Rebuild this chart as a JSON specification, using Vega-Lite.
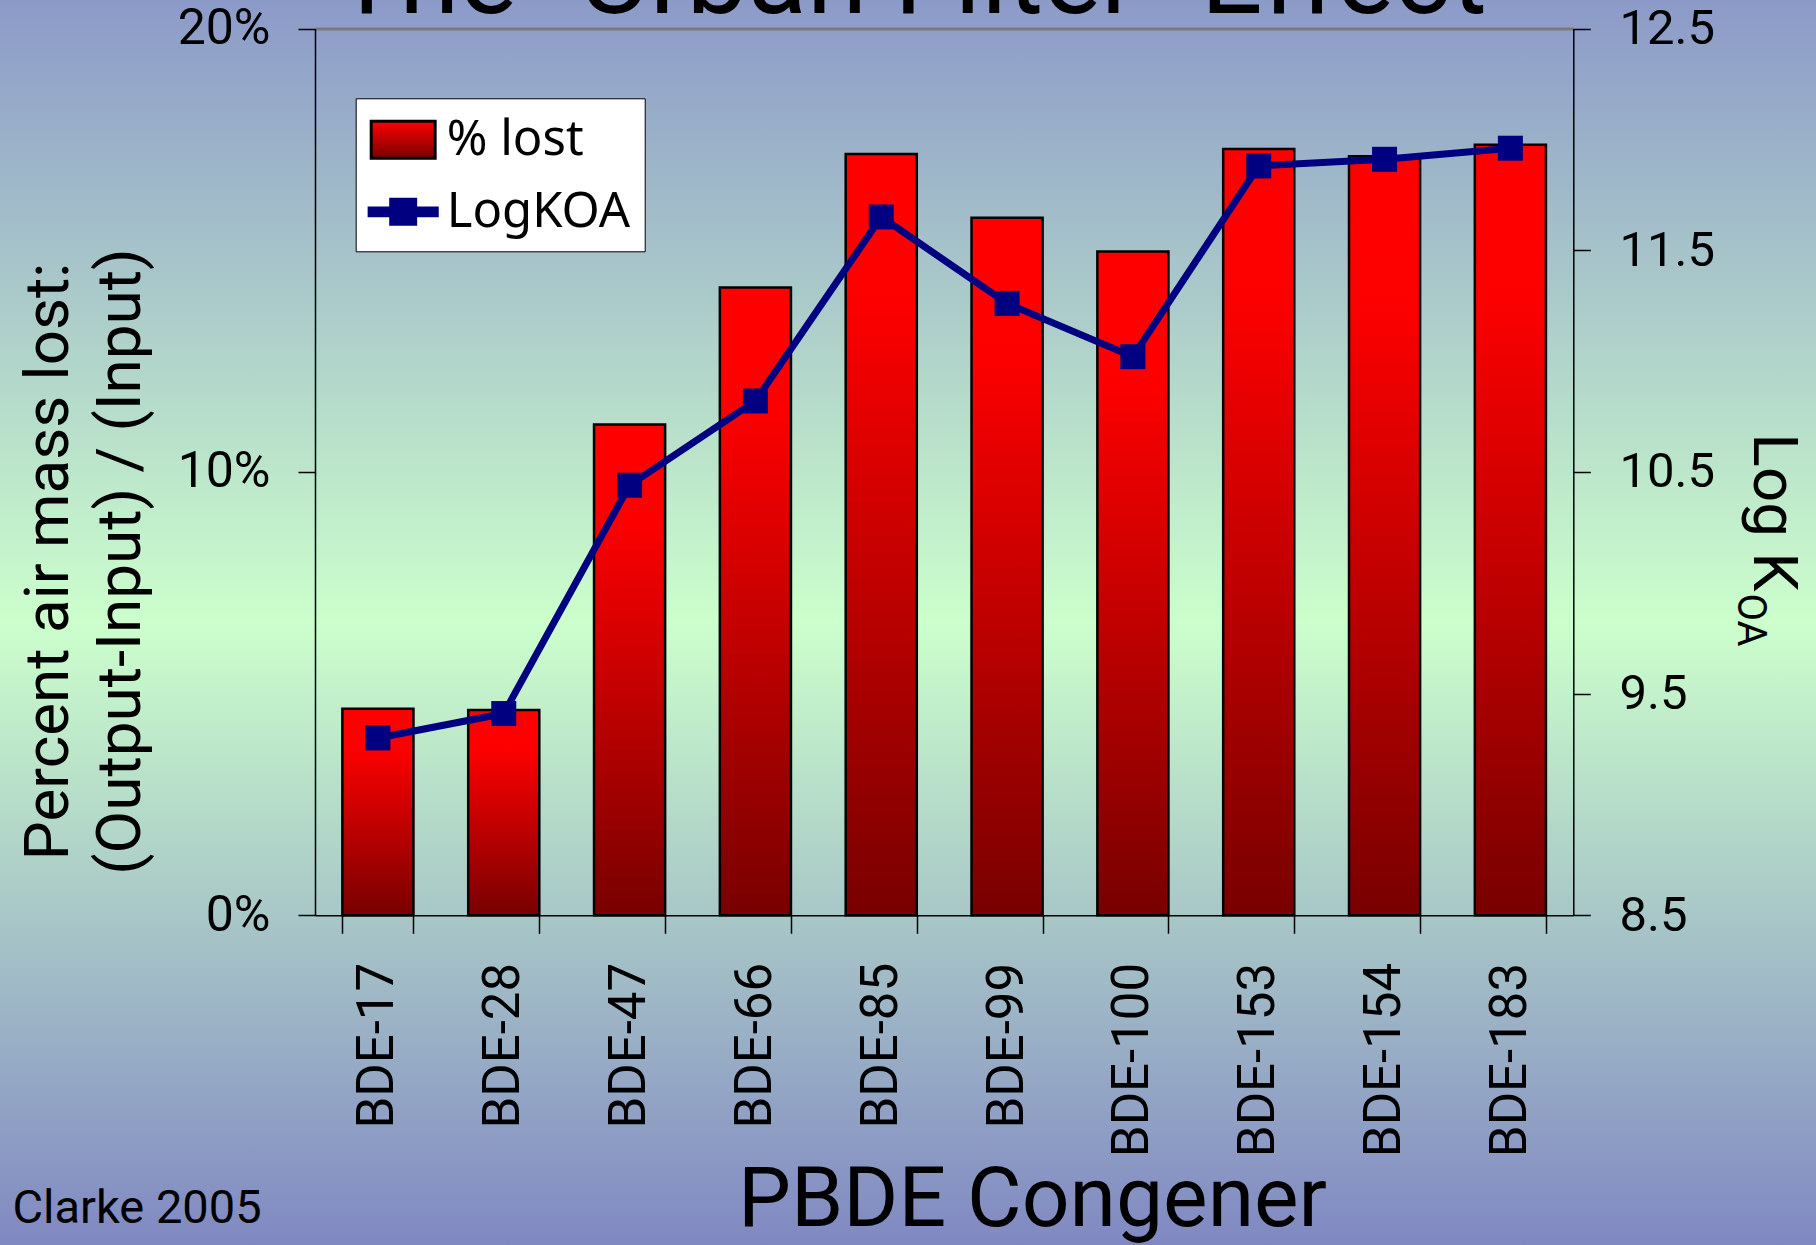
{
  "$schema": "https://vega.github.io/schema/vega-lite/v6.json",
  "width": 1816,
  "height": 1245,
  "autosize": {"type": "none"},
  "padding": 0,
  "background": "#8c9bc8",
  "view": {
    "stroke": null,
    "fill": {
      "gradient": "linear", "x1": 0, "y1": 0, "x2": 0, "y2": 1,
      "stops": [
        {"offset": 0, "color": "#8c9ac8"},
        {"offset": 0.5, "color": "#ccffcc"},
        {"offset": 1, "color": "#8088c2"}
      ]
    }
  },
  "data": {
    "values": [
      {"congener": "BDE-17", "lost": 0.0466, "logkoa": 9.30, "series": "LogKOA"},
      {"congener": "BDE-28", "lost": 0.0463, "logkoa": 9.41, "series": "LogKOA"},
      {"congener": "BDE-47", "lost": 0.1107, "logkoa": 10.44, "series": "LogKOA"},
      {"congener": "BDE-66", "lost": 0.1416, "logkoa": 10.82, "series": "LogKOA"},
      {"congener": "BDE-85", "lost": 0.1717, "logkoa": 11.65, "series": "LogKOA"},
      {"congener": "BDE-99", "lost": 0.1573, "logkoa": 11.26, "series": "LogKOA"},
      {"congener": "BDE-100", "lost": 0.1497, "logkoa": 11.02, "series": "LogKOA"},
      {"congener": "BDE-153", "lost": 0.1728, "logkoa": 11.88, "series": "LogKOA"},
      {"congener": "BDE-154", "lost": 0.1712, "logkoa": 11.91, "series": "LogKOA"},
      {"congener": "BDE-183", "lost": 0.1738, "logkoa": 11.96, "series": "LogKOA"}
    ]
  },
  "layer": [
    {
      "mark": {
        "type": "bar",
        "fill": {
          "gradient": "linear", "x1": 0, "y1": 0, "x2": 0, "y2": 1,
          "stops": [
            {"offset": 0, "color": "#ff0000"},
            {"offset": 0.2, "color": "#fc0000"},
            {"offset": 1, "color": "#780000"}
          ]
        },
        "stroke": "black",
        "strokeWidth": 2.5
      },
      "encoding": {
        "x": {
          "field": "congener", "type": "nominal", "sort": null,
          "scale": {"range": [315, 1573.3], "paddingInner": 0.435, "paddingOuter": 0.2175},
          "axis": {
            "orient": "bottom",
            "offset": -329.7,
            "labelAngle": 270,
            "labelAlign": "right",
            "labelBaseline": "middle",
            "labelFont": "Roboto",
            "labelFontSize": 51,
            "labelPadding": 29,
            "labelLimit": 500,
            "labelOverlap": false,
            "tickSize": 18,
            "tickBand": "extent",
            "title": "PBDE Congener",
            "titleX": 1032,
            "titleY": 310,
            "titleAlign": "center",
            "titleBaseline": "alphabetic",
            "titleFontSize": 84
          }
        },
        "y": {
          "field": "lost", "type": "quantitative",
          "scale": {"domain": [0, 0.2], "range": [915.3, 28.5], "nice": false},
          "axis": {
            "orient": "left",
            "offset": -315,
            "values": [0, 0.1, 0.2],
            "format": ".0%",
            "labelFontSize": 50,
            "labelPadding": 28,
            "tickSize": 17,
            "title": ["Percent air mass lost:", "(Output-Input) / (Input)"],
            "titleX": -248,
            "titleY": 561,
            "titleAngle": 270,
            "titleAlign": "center",
            "titleBaseline": "alphabetic",
            "titleLineHeight": 72,
            "titleFontSize": 62
          }
        }
      }
    },
    {
      "mark": {"type": "line", "stroke": "#000080", "strokeWidth": 7},
      "encoding": {
        "x": {
          "field": "congener", "type": "nominal", "sort": null,
          "scale": {"range": [315, 1573.3], "paddingInner": 0.435, "paddingOuter": 0.2175},
          "axis": {
            "orient": "top",
            "offset": -28.5,
            "domain": true,
            "domainColor": "#7a7a7a",
            "domainWidth": 3,
            "ticks": false,
            "labels": false,
            "title": "Clarke 2005",
            "titleX": 12,
            "titleY": 1193.5,
            "titleAlign": "left",
            "titleBaseline": "alphabetic",
            "titleFontSize": 47
          }
        },
        "y": {
          "field": "logkoa", "type": "quantitative",
          "scale": {"domain": [8.5, 12.5], "range": [915.3, 28.5], "nice": false, "zero": false},
          "axis": {
            "orient": "right",
            "offset": -242.7,
            "values": [8.5, 9.5, 10.5, 11.5, 12.5],
            "format": ".1f",
            "labelFontSize": 49,
            "labelPadding": 28.7,
            "tickSize": 17,
            "title": "Log K",
            "titleX": 179.7,
            "titleY": 433,
            "titleAngle": 90,
            "titleAlign": "left",
            "titleBaseline": "alphabetic",
            "titleFontSize": 62
          }
        },
        "color": {
          "field": "series", "type": "nominal",
          "scale": {"domain": ["% lost", "LogKOA"], "range": ["black", "#000080"]},
          "legend": {
            "title": null,
            "orient": "none",
            "legendX": 355.7,
            "legendY": 98.3,
            "fillColor": "white",
            "strokeColor": "black",
            "padding": 14,
            "rowPadding": 19,
            "symbolSize": 2704,
            "symbolStrokeColor": "black",
            "symbolStrokeWidth": 3,
            "labelFont": "Noto Sans",
            "labelFontSize": 49,
            "labelColor": "black",
            "labelOffset": 22,
            "labelLimit": 500,
            "encode": {
              "symbols": {
                "update": {
                  "shape": {"signal": "datum.value === 'LogKOA' ? 'M-1.08,-0.15L1.54,-0.15L1.54,0.15L-1.08,0.15Z M-0.25,-0.48L0.71,-0.48L0.71,0.48L-0.25,0.48Z' : 'M-1,-0.71L1.46,-0.71L1.46,0.71L-1,0.71Z'"},
                  "fill": {"signal": "datum.value === 'LogKOA' ? '#000080' : {gradient: 'linear', x1: 0, y1: 0, x2: 0, y2: 1, stops: [{offset: 0, color: '#ff0000'}, {offset: 1, color: '#780000'}]}"},
                  "stroke": {"signal": "datum.value === 'LogKOA' ? 'transparent' : 'black'"},
                  "strokeWidth": {"value": 3},
                  "opacity": {"value": 1},
                  "fillOpacity": {"value": 1},
                  "strokeOpacity": {"value": 1}
                }
              }
            }
          }
        }
      }
    },
    {
      "mark": {"type": "point", "shape": "square", "filled": true, "size": 625, "color": "#000080", "opacity": 1},
      "encoding": {
        "x": {
          "field": "congener", "type": "nominal", "sort": null,
          "scale": {"range": [315, 1573.3], "paddingInner": 0.435, "paddingOuter": 0.2175},
          "axis": {
            "orient": "top",
            "offset": 0,
            "domain": false,
            "ticks": false,
            "labels": false,
            "title": "The \"Urban Filter\" Effect",
            "titleX": 910,
            "titleY": 12,
            "titleAlign": "center",
            "titleBaseline": "alphabetic",
            "titleFontSize": 109
          }
        },
        "y": {
          "field": "logkoa", "type": "quantitative",
          "scale": {"domain": [8.5, 12.5], "range": [915.3, 28.5], "nice": false, "zero": false},
          "axis": {
            "orient": "right",
            "offset": -242.7,
            "domain": false,
            "ticks": false,
            "labels": false,
            "grid": false,
            "title": "OA",
            "titleX": 163.7,
            "titleY": 593,
            "titleAngle": 90,
            "titleAlign": "left",
            "titleBaseline": "alphabetic",
            "titleFontSize": 40
          }
        }
      }
    }
  ],
  "resolve": {"scale": {"y": "independent"}, "axis": {"x": "independent"}},
  "config": {
    "font": "Roboto",
    "axis": {
      "grid": false,
      "labelFont": "Roboto",
      "titleFont": "Roboto",
      "labelColor": "black",
      "titleColor": "black",
      "titleFontWeight": "normal",
      "tickColor": "black",
      "tickWidth": 1.5,
      "domainColor": "black",
      "domainWidth": 1.5
    }
  }
}
